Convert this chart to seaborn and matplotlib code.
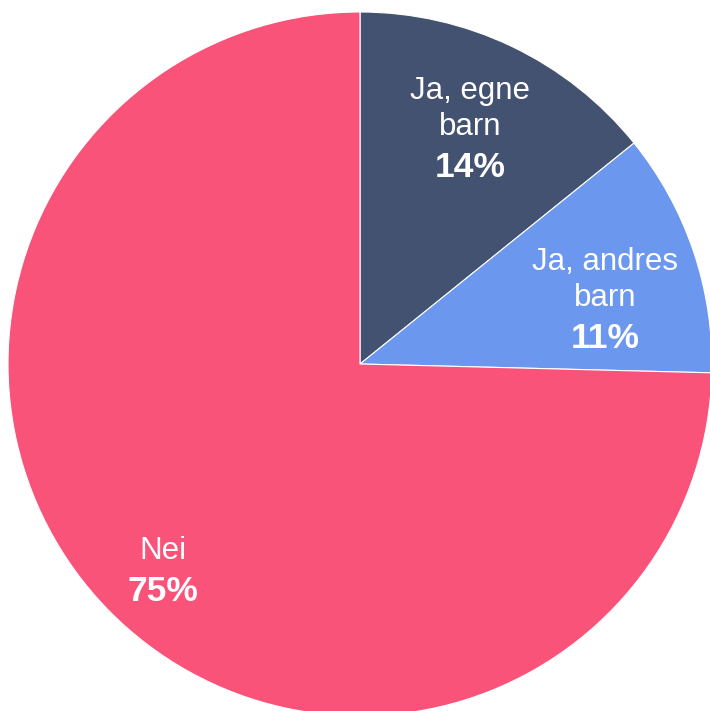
import numpy as np
import matplotlib
matplotlib.use("Agg")
import matplotlib.pyplot as plt
import seaborn as sns

# data
categories = ["Ja, egne\nbarn", "Ja, andres\nbarn", "Nei"]
shares = [14.2, 11.2, 74.6]
pct_labels = ["14%", "11%", "75%"]
colors = ["#435270", "#6C97EE", "#FA537A"]

# label placement tweaks (radius as fraction of pie, angle nudge in degrees)
label_r = [0.70, 0.71, 0.805]
label_nudge = [-1.0, -7.3, 1.7]

sns.set_theme(style="white")
plt.rcParams['font.family'] = ['Liberation Sans', 'DejaVu Sans']

fig = plt.figure(figsize=(7.10, 7.11), dpi=100)
ax = fig.add_axes([0, 0, 1, 1])

wedges, _ = ax.pie(shares, colors=colors, startangle=90, counterclock=False,
                   radius=1, center=(0, 0),
                   wedgeprops=dict(edgecolor="white", linewidth=0.8))

# pixel layout of the reference: centre (360, 364), radius 352
R = 352.0
ax.set_xlim(-360 / R, (710 - 360) / R)
ax.set_ylim(-(711 - 364) / R, 364 / R)
ax.set_aspect('auto')
ax.axis('off')

for w, name, pct, r, nud in zip(wedges, categories, pct_labels, label_r, label_nudge):
    mid = np.deg2rad((w.theta1 + w.theta2) / 2 + nud)
    x, y = r * np.cos(mid), r * np.sin(mid)
    ax.annotate(name, (x, y), xytext=(0, 1), textcoords='offset points',
                ha='center', va='bottom', color='white', fontsize=22.5,
                linespacing=1.25)
    ax.annotate(pct, (x, y), xytext=(0, -5.5), textcoords='offset points',
                ha='center', va='top', color='white', fontsize=25.5,
                fontweight='bold')

fig.savefig("out.png", dpi=100)
